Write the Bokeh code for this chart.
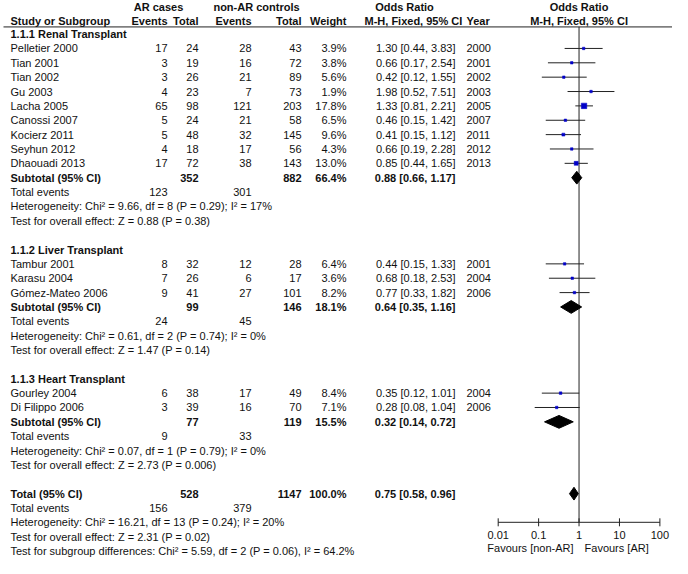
from bokeh.plotting import figure
from bokeh.models import Range1d, LogScale, ColumnDataSource
from bokeh.core.properties import value
from bokeh.embed import file_html
from bokeh.resources import INLINE

# ---------------- data ----------------
studies = ["Pelletier 2000", "Tian  2001", "Tian  2002", "Gu 2003", "Lacha 2005",
           "Canossi 2007", "Kocierz 2011", "Seyhun 2012", "Dhaouadi 2013",
           "Tambur 2001", "Karasu 2004", "Gómez-Mateo 2006",
           "Gourley 2004", "Di Filippo 2006"]
study_group = [0, 0, 0, 0, 0, 0, 0, 0, 0, 1, 1, 1, 2, 2]
ar_events = [17, 3, 3, 4, 65, 5, 5, 4, 17, 8, 7, 9, 6, 3]
ar_total = [24, 19, 26, 23, 98, 24, 48, 18, 72, 32, 26, 41, 38, 39]
ctrl_events = [28, 16, 21, 7, 121, 21, 32, 17, 38, 12, 6, 27, 17, 16]
ctrl_total = [43, 72, 89, 73, 203, 58, 145, 56, 143, 28, 17, 101, 49, 70]
weights = [3.9, 3.8, 5.6, 1.9, 17.8, 6.5, 9.6, 4.3, 13.0, 6.4, 3.6, 8.2, 8.4, 7.1]
or_est = [1.30, 0.66, 0.42, 1.98, 1.33, 0.46, 0.41, 0.66, 0.85, 0.44, 0.68, 0.77, 0.35, 0.28]
or_lo = [0.44, 0.17, 0.12, 0.52, 0.81, 0.15, 0.15, 0.19, 0.44, 0.15, 0.18, 0.33, 0.12, 0.08]
or_hi = [3.83, 2.54, 1.55, 7.51, 2.21, 1.42, 1.12, 2.28, 1.65, 1.33, 2.53, 1.82, 1.01, 1.04]
years = [2000, 2001, 2002, 2003, 2005, 2007, 2011, 2012, 2013, 2001, 2004, 2006, 2004, 2006]

group_titles = ["1.1.1 Renal Transplant", "1.1.2 Liver Transplant", "1.1.3 Heart Transplant"]
sub_ar_total = [352, 99, 77]
sub_ctrl_total = [882, 146, 119]
sub_weight = [66.4, 18.1, 15.5]
sub_or = [0.88, 0.64, 0.32]
sub_lo = [0.66, 0.35, 0.14]
sub_hi = [1.17, 1.16, 0.72]
sub_ev_ar = [123, 24, 9]
sub_ev_ctrl = [301, 45, 33]
sub_chi2 = [9.66, 0.61, 0.07]
sub_df = [8, 2, 1]
sub_p_het = ["0.29", "0.74", "0.79"]
sub_i2 = [17, 0, 0]
sub_z = [0.88, 1.47, 2.73]
sub_p = ["0.38", "0.14", "0.006"]

tot_ar_total, tot_ctrl_total, tot_weight = 528, 1147, 100.0
tot_or, tot_lo, tot_hi = 0.75, 0.58, 0.96
tot_ev_ar, tot_ev_ctrl = 156, 379
tot_chi2, tot_df, tot_p_het, tot_i2 = 16.21, 13, "0.24", 20
tot_z, tot_p = 2.31, "0.02"
diff_chi2, diff_df, diff_p, diff_i2 = 5.59, 2, "0.06", "64.2"

axis_ticks = [0.01, 0.1, 1, 10, 100]
axis_tick_labels = ["0.01", "0.1", "1", "10", "100"]
favour_labels = ["Favours [non-AR]", "Favours [AR]"]

# ---------------- layout / style ----------------
FONT = "Liberation Sans"
FS = "11px"
TXT = "#111111"
LINE = "#222222"
SQ = "#0000c8"
W, H = 672, 558
VS = 0.979


def fy(r):          # reference row position -> figure pixel y
    return r * VS


def fx(r):          # reference column position -> figure pixel x
    return r if r <= 486 else 486 + (r - 486) * (W - 486) / (688 - 486)


X_ONE = fx(586.5)
DEC = 43.9 * (W - 486) / (688 - 486)
OR_START = 10 ** ((0 - X_ONE) / DEC)
OR_END = 10 ** ((W - X_ONE) / DEC)
FAV_GAP = 10 ** (5.5 / DEC)

C_NAME, C_AREV, C_ARTOT, C_CEV, C_CTOT, C_WT, C_OR, C_YEAR = [
    fx(v) for v in (10, 167, 198, 251, 301, 346, 455, 466)]
FIRST, S = 34.3, 14.67
LINE_Y = fy(27)
AXIS_Y = fy(533)
TICK_LAB_Y = fy(546)
FAV_Y = fy(559)
TICK = 4

items = {}


def put(x, r, t, align="left", bold=False):
    d = items.setdefault((align, bold), dict(x=[], y=[], text=[]))
    d["x"].append(x)
    d["y"].append(fy(r))
    d["text"].append(t)


# headers
put(fx(158), 7, "AR cases", "center", True)
put(fx(256), 7, "non-AR controls", "center", True)
put(fx(404), 7, "Odds Ratio", "center", True)
put(C_NAME, 21, "Study or Subgroup", "left", True)
put(C_AREV, 21, "Events", "right", True)
put(C_ARTOT, 21, "Total", "right", True)
put(C_CEV, 21, "Events", "right", True)
put(C_CTOT, 21, "Total", "right", True)
put(C_WT, 21, "Weight", "right", True)
put(fx(364), 21, "M-H, Fixed, 95% CI", "left", True)
put(C_YEAR, 21, "Year", "left", True)

study_y = [0.0] * len(studies)
diam_y = []
k = 0


def ry():
    return FIRST + S * k


for g in range(3):
    put(C_NAME, ry(), group_titles[g], bold=True)
    k += 1
    for i, name in enumerate(studies):
        if study_group[i] != g:
            continue
        r = ry()
        put(C_NAME, r, name)
        put(C_AREV, r, str(ar_events[i]), "right")
        put(C_ARTOT, r, str(ar_total[i]), "right")
        put(C_CEV, r, str(ctrl_events[i]), "right")
        put(C_CTOT, r, str(ctrl_total[i]), "right")
        put(C_WT, r, f"{weights[i]:.1f}%", "right")
        put(C_OR, r, f"{or_est[i]:.2f} [{or_lo[i]:.2f}, {or_hi[i]:.2f}]", "right")
        put(C_YEAR, r, str(years[i]))
        study_y[i] = fy(r)
        k += 1
    r = ry()
    put(C_NAME, r, "Subtotal (95% CI)", bold=True)
    put(C_ARTOT, r, str(sub_ar_total[g]), "right", True)
    put(C_CTOT, r, str(sub_ctrl_total[g]), "right", True)
    put(C_WT, r, f"{sub_weight[g]:.1f}%", "right", True)
    put(C_OR, r, f"{sub_or[g]:.2f} [{sub_lo[g]:.2f}, {sub_hi[g]:.2f}]", "right", True)
    diam_y.append(fy(r))
    k += 1
    r = ry()
    put(C_NAME, r, "Total events")
    put(C_AREV, r, str(sub_ev_ar[g]), "right")
    put(C_CEV, r, str(sub_ev_ctrl[g]), "right")
    k += 1
    put(C_NAME, ry(), f"Heterogeneity: Chi² = {sub_chi2[g]:.2f}, df = {sub_df[g]} (P = {sub_p_het[g]}); I² = {sub_i2[g]}%")
    k += 1
    put(C_NAME, ry(), f"Test for overall effect: Z = {sub_z[g]:.2f} (P = {sub_p[g]})")
    k += 2

r = ry()
put(C_NAME, r, "Total (95% CI)", bold=True)
put(C_ARTOT, r, str(tot_ar_total), "right", True)
put(C_CTOT, r, str(tot_ctrl_total), "right", True)
put(C_WT, r, f"{tot_weight:.1f}%", "right", True)
put(C_OR, r, f"{tot_or:.2f} [{tot_lo:.2f}, {tot_hi:.2f}]", "right", True)
diam_y.append(fy(r))
k += 1
r = ry()
put(C_NAME, r, "Total events")
put(C_AREV, r, str(tot_ev_ar), "right")
put(C_CEV, r, str(tot_ev_ctrl), "right")
k += 1
put(C_NAME, ry(), f"Heterogeneity: Chi² = {tot_chi2:.2f}, df = {tot_df} (P = {tot_p_het}); I² = {tot_i2}%")
k += 1
put(C_NAME, ry(), f"Test for overall effect: Z = {tot_z:.2f} (P = {tot_p})")
k += 1
put(C_NAME, ry(), f"Test for subgroup differences: Chi² = {diff_chi2:.2f}, df = {diff_df} (P = {diff_p}), I² = {diff_i2}%")

# ---------------- figure ----------------
p = figure(width=W, height=H, x_range=Range1d(0, W), y_range=Range1d(H, 0),
           x_axis_location=None, y_axis_location=None, toolbar_location=None,
           output_backend="svg", min_border=0, outline_line_color=None)
p.grid.visible = False
p.extra_x_ranges = {"or": Range1d(OR_START, OR_END)}
p.extra_x_scales = {"or": LogScale()}

for (align, bold), d in items.items():
    p.text(x="x", y="y", text="text", source=ColumnDataSource(d),
           text_align=align, text_baseline="middle", text_font=value(FONT),
           text_font_size=FS, text_font_style="bold" if bold else "normal",
           text_color=TXT)

# header rule and the line of no effect
p.segment(x0=[fx(3)], y0=[LINE_Y], x1=[W], y1=[LINE_Y], line_color=LINE, line_width=1)
p.segment(x0=[1], y0=[LINE_Y], x1=[1], y1=[AXIS_Y], line_color=LINE, line_width=1,
          x_range_name="or")
p.text(x=[1, 1], y=[fy(7), fy(21)], text=["Odds Ratio", "M-H, Fixed, 95% CI"],
       x_range_name="or", text_align="center", text_baseline="middle",
       text_font=value(FONT), text_font_size=FS, text_font_style="bold", text_color=TXT)

# studies
sizes = [max(2.5, 5.5 * w / 17.8) for w in weights]
src = ColumnDataSource(dict(est=or_est, lo=or_lo, hi=or_hi, y=study_y, size=sizes))
p.segment(x0="lo", y0="y", x1="hi", y1="y", source=src, line_color=LINE, line_width=1,
          x_range_name="or")
p.scatter(x="est", y="y", size="size", marker="square", source=src,
          fill_color=SQ, line_color=SQ, line_width=0.5, x_range_name="or")

# pooled diamonds
DH = 6.4
d_est = sub_or + [tot_or]
d_lo = sub_lo + [tot_lo]
d_hi = sub_hi + [tot_hi]
xs = [[lo, e, hi, e] for lo, e, hi in zip(d_lo, d_est, d_hi)]
ys = [[yy, yy - DH, yy, yy + DH] for yy in diam_y]
p.patches(xs=xs, ys=ys, fill_color="black", line_color="black", line_width=1,
          x_range_name="or")

# odds-ratio scale (log) drawn on the log x scale
p.segment(x0=[min(axis_ticks)], y0=[AXIS_Y], x1=[max(axis_ticks)], y1=[AXIS_Y],
          line_color=LINE, line_width=1, x_range_name="or")
p.segment(x0=axis_ticks, y0=[AXIS_Y - TICK] * len(axis_ticks), x1=axis_ticks,
          y1=[AXIS_Y + TICK] * len(axis_ticks), line_color=LINE, line_width=1,
          x_range_name="or")
p.text(x=axis_ticks, y=[TICK_LAB_Y] * len(axis_ticks), text=axis_tick_labels,
       x_range_name="or", text_align="center", text_baseline="middle",
       text_font=value(FONT), text_font_size=FS, text_color=TXT)
p.text(x=[1 / FAV_GAP], y=[FAV_Y], text=[favour_labels[0]], x_range_name="or",
       text_align="right", text_baseline="middle", text_font=value(FONT),
       text_font_size=FS, text_color=TXT)
p.text(x=[FAV_GAP], y=[FAV_Y], text=[favour_labels[1]], x_range_name="or",
       text_align="left", text_baseline="middle", text_font=value(FONT),
       text_font_size=FS, text_color=TXT)

open("out.html", "w").write(file_html(p, INLINE))
